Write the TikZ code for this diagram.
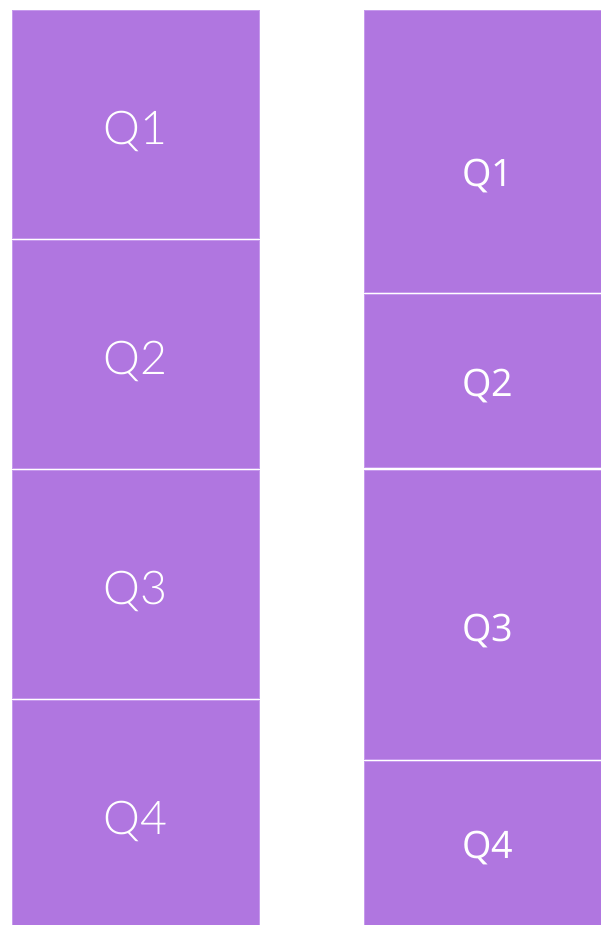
\documentclass[tikz,border=0pt]{standalone}
\usepackage{fontspec}
\setmainfont{Open Sans}
\newfontfamily\lightfont{Lato Light}
\usetikzlibrary{positioning}
\definecolor{quarterfill}{RGB}{176,118,224}
\definecolor{quarteredge}{RGB}{198,154,236}

\begin{document}
\begin{tikzpicture}[
        node distance=0.04cm,
        qbox/.style={fill=quarterfill, draw=quarteredge, line width=0.3pt, minimum width=4.94cm, inner sep=0pt, outer sep=0pt},
        qlight/.style={text=white, font=\lightfont\fontsize{26.5}{30}\selectfont, anchor=base},
        qplain/.style={text=white, font=\fontsize{21.5}{26}\selectfont, anchor=base}
    ]
    \useasboundingbox (0,0) rectangle (12,-18.5);
    % equal quarters
    \node[qbox, minimum height=4.56cm, label={[qlight, yshift=-0.14cm]center:Q1}] (even1) at (2.71,-2.48) {};
    \node[qbox, minimum height=4.56cm, below=of even1, label={[qlight, yshift=-0.14cm]center:Q2}] (even2) {};
    \node[qbox, minimum height=4.56cm, below=of even2, label={[qlight, yshift=-0.14cm]center:Q3}] (even3) {};
    \node[qbox, minimum height=4.56cm, below=of even3, label={[qlight, yshift=-0.14cm]center:Q4}] (even4) {};
    % unequal quarters
    \node[qbox, minimum height=5.64cm, label={[qplain, yshift=-0.50cm]center:Q1}] (uneven1) at (9.76,-3.02) {};
    \node[qbox, minimum height=3.46cm, below=of uneven1, label={[qplain, yshift=-0.11cm]center:Q2}] (uneven2) {};
    \node[qbox, minimum height=5.78cm, below=0.06cm of uneven2, label={[qplain, yshift=-0.33cm]center:Q3}] (uneven3) {};
    \node[qbox, minimum height=3.32cm, below=of uneven3, label={[qplain, yshift=-0.08cm]center:Q4}] (uneven4) {};
\end{tikzpicture}
\end{document}
